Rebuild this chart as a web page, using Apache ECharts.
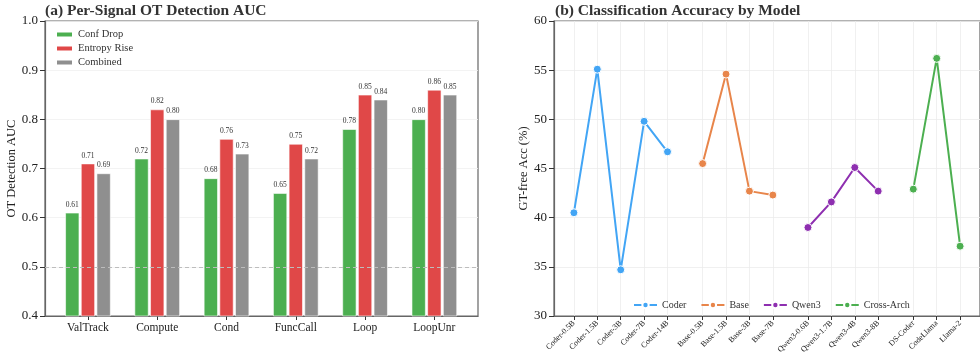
<!DOCTYPE html>
<html>
<head>
<meta charset="utf-8">
<script src="https://cdn.jsdelivr.net/npm/echarts@6/dist/echarts.min.js"></script>
<style>
  html, body { margin: 0; padding: 0; background: #fff; }
  #chart { width: 980px; height: 358px; }
</style>
</head>
<body>
<div id="chart"></div>
<script>
// (a) per-signal AUC
var signals = ['ValTrack', 'Compute', 'Cond', 'FuncCall', 'Loop', 'LoopUnr'];
var confDrop = [0.61, 0.72, 0.68, 0.65, 0.78, 0.80];
var entropyRise = [0.71, 0.82, 0.76, 0.75, 0.85, 0.86];
var combined = [0.69, 0.80, 0.73, 0.72, 0.84, 0.85];

// (b) accuracy by model, positions on the x axis leave a gap between families
var coderModels = ['Coder-0.5B', 'Coder-1.5B', 'Coder-3B', 'Coder-7B', 'Coder-14B'];
var coderPos = [0, 1, 2, 3, 4];
var coderAcc = [40.5, 55.1, 34.7, 49.8, 46.7];
var baseModels = ['Base-0.5B', 'Base-1.5B', 'Base-3B', 'Base-7B'];
var basePos = [5.5, 6.5, 7.5, 8.5];
var baseAcc = [45.5, 54.6, 42.7, 42.3];
var qwenModels = ['Qwen3-0.6B', 'Qwen3-1.7B', 'Qwen3-4B', 'Qwen3-8B'];
var qwenPos = [10, 11, 12, 13];
var qwenAcc = [39.0, 41.6, 45.1, 42.7];
var crossModels = ['DS-Coder', 'CodeLlama', 'Llama-2'];
var crossPos = [14.5, 15.5, 16.5];
var crossAcc = [42.9, 56.2, 37.1];

var serif = '"Liberation Serif", "DejaVu Serif", serif';
var allPos = coderPos.concat(basePos, qwenPos, crossPos);
var allModels = coderModels.concat(baseModels, qwenModels, crossModels);

function pairs(xs, ys) {
  return xs.map(function (x, i) { return [x, ys[i]]; });
}

function barSeries(name, color, vals) {
  return {
    name: name, type: 'bar', xAxisIndex: 0, yAxisIndex: 0,
    data: pairs([0, 1, 2, 3, 4, 5], vals),
    barWidth: 14, barGap: '12%',
    itemStyle: { color: color, borderColor: '#fff', borderWidth: 0.6 },
    label: {
      show: true, position: 'top', distance: 4,
      fontFamily: serif, fontSize: 7.5, color: '#333',
      formatter: function (p) { return p.value[1].toFixed(2); }
    }
  };
}

function lineSeries(name, color, xs, ys) {
  return {
    name: name, type: 'line', xAxisIndex: 1, yAxisIndex: 1,
    data: pairs(xs, ys),
    symbol: 'circle', symbolSize: 8,
    lineStyle: { color: color, width: 2 },
    itemStyle: { color: color, borderColor: '#fff', borderWidth: 1 }
  };
}

var chart = echarts.init(document.getElementById('chart'));

var series = [
  barSeries('Conf Drop', '#4CAF50', confDrop),
  barSeries('Entropy Rise', '#E04848', entropyRise),
  barSeries('Combined', '#8F8F8F', combined),
  lineSeries('Coder', '#42A5F5', coderPos, coderAcc),
  lineSeries('Base', '#E8854A', basePos, baseAcc),
  lineSeries('Qwen3', '#8E2FB0', qwenPos, qwenAcc),
  lineSeries('Cross-Arch', '#4CAF50', crossPos, crossAcc)
];
series[0].markLine = {
  silent: true, symbol: 'none', label: { show: false },
  lineStyle: { color: '#bdbdbd', type: [4, 3], width: 1 },
  data: [{ yAxis: 0.5 }]
};

chart.setOption({
  animation: false,
  textStyle: { fontFamily: serif },
  title: [
    { text: '(a) Per-Signal OT Detection AUC', left: 40, top: -2,
      textStyle: { fontFamily: serif, fontSize: 15.5, fontWeight: 'bold', color: '#333' } },
    { text: '(b) Classification Accuracy by Model', left: 550, top: -2,
      textStyle: { fontFamily: serif, fontSize: 15.5, fontWeight: 'bold', color: '#333' } }
  ],
  legend: [
    {
      data: ['Conf Drop', 'Entropy Rise', 'Combined'],
      orient: 'vertical', left: 50, top: 24,
      icon: 'rect', itemWidth: 17, itemHeight: 6, itemGap: 3,
      textStyle: { fontFamily: serif, fontSize: 10.5, color: '#333' }
    },
    {
      data: ['Coder', 'Base', 'Qwen3', 'Cross-Arch'],
      orient: 'horizontal', left: 628, top: 295,
      itemWidth: 23, itemHeight: 8, itemGap: 14,
      textStyle: { fontFamily: serif, fontSize: 10, color: '#333' }
    }
  ],
  grid: [
    { left: 45, top: 21, width: 433, height: 295, show: true,
      borderColor: '#666', borderWidth: 1.2, containLabel: false },
    { left: 554, top: 21, width: 431, height: 295, show: true,
      borderColor: '#666', borderWidth: 1.2, containLabel: false }
  ],
  xAxis: [
    {
      gridIndex: 0, type: 'value', min: -0.62, max: 5.63,
      axisLine: { onZero: false, lineStyle: { color: '#666', width: 1.2 } },
      axisTick: { show: true, length: 4, customValues: [0, 1, 2, 3, 4, 5],
        lineStyle: { color: '#333' } },
      axisLabel: { customValues: [0, 1, 2, 3, 4, 5], margin: 6,
        fontFamily: serif, fontSize: 11.5, color: '#222',
        formatter: function (v) { return signals[Math.round(v)]; } },
      splitLine: { show: false }
    },
    {
      gridIndex: 1, type: 'value', min: -0.85, max: 17.35,
      axisLine: { onZero: false, lineStyle: { color: '#666', width: 1.2 } },
      axisTick: { show: true, length: 4, customValues: allPos,
        lineStyle: { color: '#333' } },
      axisLabel: { customValues: allPos, margin: 6, rotate: 45,
        fontFamily: serif, fontSize: 8, color: '#222',
        formatter: function (v) { return allModels[allPos.indexOf(v)]; } },
      splitLine: { show: true, lineStyle: { color: '#ececec', width: 0.8 } }
    }
  ],
  yAxis: [
    {
      gridIndex: 0, type: 'value', min: 0.4, max: 1.0, interval: 0.1,
      name: 'OT Detection AUC', nameLocation: 'middle', nameGap: 26,
      nameTextStyle: { fontFamily: serif, fontSize: 12.5, color: '#222' },
      axisLine: { show: true, onZero: false, lineStyle: { color: '#666', width: 1.2 } },
      axisTick: { show: true, length: 5, lineStyle: { color: '#333' } },
      axisLabel: { margin: 7, fontFamily: serif, fontSize: 13, color: '#222',
        formatter: function (v) { return v.toFixed(1); } },
      splitLine: { show: true, lineStyle: { color: '#f0f0f0', width: 0.8 } }
    },
    {
      gridIndex: 1, type: 'value', min: 30, max: 60, interval: 5,
      name: 'GT-free Acc (%)', nameLocation: 'middle', nameGap: 22,
      nameTextStyle: { fontFamily: serif, fontSize: 12.5, color: '#222' },
      axisLine: { show: true, onZero: false, lineStyle: { color: '#666', width: 1.2 } },
      axisTick: { show: true, length: 5, lineStyle: { color: '#333' } },
      axisLabel: { margin: 7, fontFamily: serif, fontSize: 13, color: '#222' },
      splitLine: { show: true, lineStyle: { color: '#ececec', width: 0.8 } }
    }
  ],
  series: series
});
</script>
</body>
</html>
